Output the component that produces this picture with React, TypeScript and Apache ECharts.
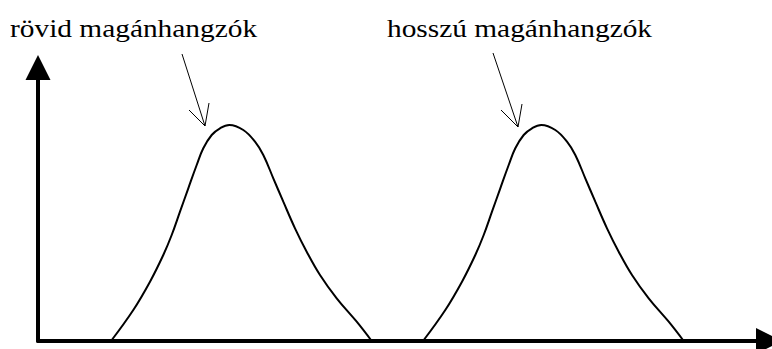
import React, { useEffect, useRef } from "react";
import * as echarts from "echarts";

// Curve data (x: horizontal position, y: height above the x axis)
const shortVowels: [number, number][] = [
  [73, 0], [95.3, 31], [112, 59.3], [125.3, 86], [133.7, 106], [142, 129.3], [150.3, 152.7],
  [158.7, 176], [165.3, 192.7], [173.7, 206], [182, 212.7], [191.3, 216], [205.3, 211],
  [217, 199.3], [225.3, 186], [235.3, 162.7], [245.3, 139.3], [257, 112.7], [268.7, 89.3],
  [282, 66], [298.7, 42.7], [318.7, 19.3], [333.7, 0],
];
const longVowels: [number, number][] = [
  [385, 0], [407.3, 31], [424, 59.3], [437.3, 86], [445.7, 106], [454, 129.3], [462.3, 152.7],
  [470.7, 176], [477.3, 192.7], [485.7, 206], [494, 212.7], [503.3, 216], [517.3, 211],
  [529, 199.3], [537.3, 186], [547.3, 162.7], [557.3, 139.3], [569, 112.7], [580.7, 89.3],
  [594, 66], [610.7, 42.7], [630.7, 19.3], [645.7, 0],
];
const labels = ["rövid magánhangzók", "hosszú magánhangzók"];

const textStyle = {
  fontFamily: "Times New Roman, Liberation Serif, Tinos, Nimbus Roman, FreeSerif, serif",
  fontSize: 25,
  fill: "#000",
  verticalAlign: "middle",
  align: "left",
};

export default function App() {
  const ref = useRef<HTMLDivElement>(null);
  useEffect(() => {
    if (!ref.current) return;
    const chart = echarts.init(ref.current, null, { renderer: "svg" });
    chart.setOption({
      animation: false,
      backgroundColor: "#ffffff",
      grid: { left: 38, right: 3, top: 67.5, bottom: 8, containLabel: false },
      xAxis: {
        type: "value",
        min: 0,
        max: 731,
        axisLine: {
          show: true,
          lineStyle: { color: "#000", width: 4 },
          symbol: ["none", "triangle"],
          symbolSize: [26, 26],
        },
        axisTick: { show: false },
        axisLabel: { show: false },
        splitLine: { show: false },
      },
      yAxis: {
        type: "value",
        min: 0,
        max: 273.5,
        axisLine: {
          show: true,
          lineStyle: { color: "#000", width: 4 },
          symbol: ["none", "triangle"],
          symbolSize: [25, 25],
        },
        axisTick: { show: false },
        axisLabel: { show: false },
        splitLine: { show: false },
      },
      series: [
        {
          name: labels[0],
          type: "line",
          data: shortVowels,
          smooth: 0.4,
          symbol: "none",
          lineStyle: { color: "#000", width: 2 },
        },
        {
          name: labels[1],
          type: "line",
          data: longVowels,
          smooth: 0.4,
          symbol: "none",
          lineStyle: { color: "#000", width: 2 },
        },
      ],
      graphic: [
        { type: "text", x: 10, y: 28.5, scaleX: 1.175, style: { ...textStyle, text: labels[0] } },
        { type: "text", x: 387, y: 28.5, scaleX: 1.175, style: { ...textStyle, text: labels[1] } },
        { type: "line", shape: { x1: 182, y1: 54, x2: 205, y2: 126 }, style: { stroke: "#000", lineWidth: 1 } },
        { type: "polyline", shape: { points: [[189, 110], [205, 126], [209, 103]] }, style: { stroke: "#000", lineWidth: 1, fill: null } },
        { type: "line", shape: { x1: 493, y1: 53, x2: 518, y2: 127 }, style: { stroke: "#000", lineWidth: 1 } },
        { type: "polyline", shape: { points: [[501, 110], [518, 127], [522, 104]] }, style: { stroke: "#000", lineWidth: 1, fill: null } },
      ],
    });
    return () => chart.dispose();
  }, []);
  return (
    <div
      ref={ref}
      style={{ position: "absolute", left: 0, top: 0, width: 772, height: 349, background: "#fff" }}
    />
  );
}
